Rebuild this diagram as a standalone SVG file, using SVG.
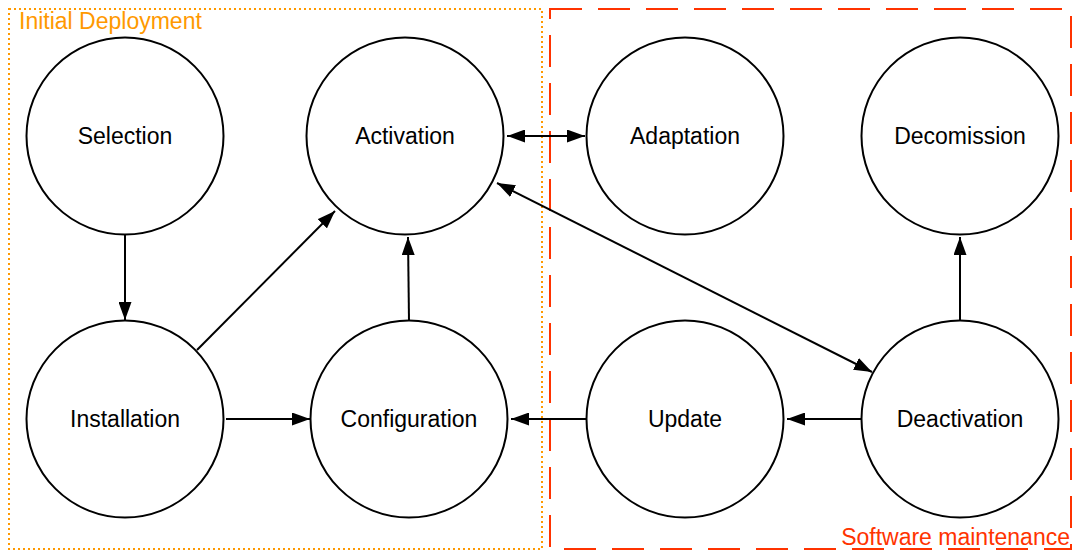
<svg xmlns="http://www.w3.org/2000/svg" width="1079" height="552" viewBox="0 0 1079 552">
<style>
.node{fill:#fff;stroke:#000;stroke-width:2}
.lbl{font-family:"Liberation Sans",Arial,sans-serif;font-size:23px;fill:#000;text-anchor:middle;dominant-baseline:central}
.edge{stroke:#000;stroke-width:2;fill:none}
</style>
<defs>
<marker id="ah" viewBox="0 0 18 13" refX="18" refY="6.5" markerWidth="18" markerHeight="13" markerUnits="userSpaceOnUse" orient="auto-start-reverse">
<path d="M0,0 L18,6.5 L0,13 Z" fill="#000"/>
</marker>
</defs>
<rect x="0" y="0" width="1079" height="552" fill="#fff"/>
<g id="group-initial">
<rect x="9" y="9" width="533" height="540" fill="none" stroke="#FF9900" stroke-width="2" stroke-dasharray="2 3"/>
<text x="19" y="21" font-family="'Liberation Sans',Arial,sans-serif" font-size="23" fill="#FF9900" dominant-baseline="central">Initial Deployment</text>
</g>
<g id="group-maintenance">
<rect x="550" y="9" width="521" height="540" fill="none" stroke="#FF3300" stroke-width="2" stroke-dasharray="32 16"/>
<text x="1070" y="537" font-family="'Liberation Sans',Arial,sans-serif" font-size="23" fill="#FF3300" text-anchor="end" dominant-baseline="central">Software maintenance</text>
</g>
<g id="connectors">
<line class="edge" x1="125" y1="235" x2="125" y2="320" marker-end="url(#ah)"/>
<line class="edge" x1="197" y1="350" x2="335" y2="211" marker-end="url(#ah)"/>
<line class="edge" x1="226" y1="419" x2="310" y2="419" marker-end="url(#ah)"/>
<line class="edge" x1="409" y1="321" x2="408" y2="237" marker-end="url(#ah)"/>
<line class="edge" x1="507" y1="136" x2="585" y2="136" marker-start="url(#ah)" marker-end="url(#ah)"/>
<line class="edge" x1="497" y1="183" x2="872" y2="372" marker-start="url(#ah)" marker-end="url(#ah)"/>
<line class="edge" x1="586" y1="419" x2="511" y2="419" marker-end="url(#ah)"/>
<line class="edge" x1="861" y1="419" x2="787" y2="419" marker-end="url(#ah)"/>
<line class="edge" x1="960" y1="321" x2="960" y2="237" marker-end="url(#ah)"/>
</g>
<g id="node-selection"><circle class="node" cx="125" cy="136" r="98.5"/><text class="lbl" x="125" y="136">Selection</text></g>
<g id="node-activation"><circle class="node" cx="405" cy="136" r="98.5"/><text class="lbl" x="405" y="136">Activation</text></g>
<g id="node-adaptation"><circle class="node" cx="685" cy="136" r="98.5"/><text class="lbl" x="685" y="136">Adaptation</text></g>
<g id="node-decomission"><circle class="node" cx="960" cy="136" r="98.5"/><text class="lbl" x="960" y="136">Decomission</text></g>
<g id="node-installation"><circle class="node" cx="125" cy="419" r="98.5"/><text class="lbl" x="125" y="419">Installation</text></g>
<g id="node-configuration"><circle class="node" cx="409" cy="419" r="98.5"/><text class="lbl" x="409" y="419">Configuration</text></g>
<g id="node-update"><circle class="node" cx="685" cy="419" r="98.5"/><text class="lbl" x="685" y="419">Update</text></g>
<g id="node-deactivation"><circle class="node" cx="960" cy="419" r="98.5"/><text class="lbl" x="960" y="419">Deactivation</text></g>
</svg>
